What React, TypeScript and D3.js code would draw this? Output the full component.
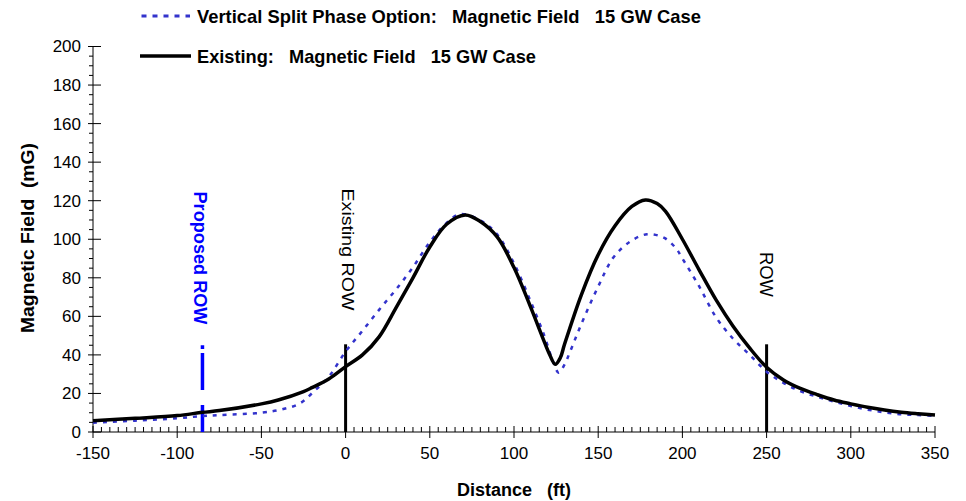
import React from "react";
import * as d3 from "d3";

// ---- Data ----
const existingDist = [-150, -125, -100, -85, -75, -50, -40, -25, -20, -10, 0, 10, 20, 30, 40, 50, 60, 71, 80, 90, 100, 110, 117, 121, 124.5, 127.5, 130, 140, 150, 160, 170, 178, 185, 190, 200, 210, 220, 230, 240, 250, 260, 270, 280, 290, 300, 310, 320, 330, 340, 350];
const existingField = [5.9, 7.1, 8.5, 10.2, 11.1, 14.6, 16.6, 21.0, 23.0, 27.5, 33.9, 40.0, 49.5, 64.5, 80.0, 96.0, 107.8, 112.6, 109.2, 101.2, 85.3, 64.5, 49.0, 40.5, 35.1, 38.5, 45.5, 71.2, 92.0, 107.0, 117.0, 120.4, 118.5, 114.5, 100.0, 84.0, 68.5, 55.0, 43.5, 33.6, 27.0, 22.6, 19.4, 16.6, 14.6, 12.8, 11.4, 10.3, 9.5, 8.8];

const splitDist = [-150, -125, -100, -85, -75, -50, -37, -27, -19, -10, 0, 10, 20, 30, 40, 50, 60, 68, 80, 90, 100, 110, 118, 123, 126.5, 130, 133, 139.5, 150, 159, 169, 179, 189, 196, 200, 210, 220, 230, 240, 250, 260, 270, 280, 290, 300, 310, 320, 330, 340, 350];
const splitField = [4.8, 5.9, 7.1, 8.3, 8.8, 10.0, 11.9, 14.9, 20.9, 28.7, 41.7, 52.5, 63.5, 74.0, 85.5, 98.5, 108.5, 113.0, 109.8, 102.5, 87.5, 67.5, 50.0, 37.0, 30.8, 35.0, 41.0, 55.0, 75.5, 90.5, 98.8, 102.6, 100.8, 95.5, 90.0, 75.5, 59.5, 48.5, 40.0, 31.3, 25.5, 21.2, 18.3, 15.8, 13.5, 11.6, 10.2, 9.2, 8.8, 8.4];

const xTicks = [-150, -100, -50, 0, 50, 100, 150, 200, 250, 300, 350];
const yTicks = [0, 20, 40, 60, 80, 100, 120, 140, 160, 180, 200];

const existingRowPositions = [0, 250];
const proposedRowPosition = -85;
const rowLineTopValue = 45.5;
const proposedRowTopValue = 45;

const legendLabels = [
  "Vertical Split Phase Option:   Magnetic Field   15 GW Case",
  "Existing:   Magnetic Field   15 GW Case",
];
const rowLabels = ["Proposed ROW", "Existing ROW", "ROW"];
const xTitle = "Distance   (ft)";
const yTitle = "Magnetic Field  (mG)";

const FONT = "'Liberation Sans', Arial, Helvetica, sans-serif";
const BLUE_CURVE = "#3333CC";
const BLUE = "#0000FF";

export default function App() {
  const W = 966;
  const H = 501;
  const x = d3.scaleLinear().domain([-150, 350]).range([93, 935]);
  const y = d3.scaleLinear().domain([0, 200]).range([432, 46.5]);

  const line = d3
    .line<[number, number]>()
    .x((d) => x(d[0]))
    .y((d) => y(d[1]))
    .curve(d3.curveCatmullRom.alpha(0.5));

  const existingPts: [number, number][] = existingDist.map((d, i) => [d, existingField[i]]);
  const splitPts: [number, number][] = splitDist.map((d, i) => [d, splitField[i]]);

  const xMinor = d3.range(-150, 351, 5).filter((v) => v % 50 !== 0);
  const yMinor = d3.range(0, 201, 5).filter((v) => v % 20 !== 0);

  const x0 = x(-150);
  const y0 = y(0);

  return (
    <svg
      width={W}
      height={H}
      style={{ position: "absolute", left: 0, top: 0, background: "#fff" }}
      fontFamily={FONT}
    >
      <rect x={0} y={0} width={W} height={H} fill="#fff" />

      {/* Legend */}
      <line x1={141.5} x2={190} y1={16} y2={16} stroke={BLUE_CURVE} strokeWidth={3} strokeDasharray="5,6" />
      <text x={197} y={22.5} fontSize={19} fontWeight="bold" textLength={504} lengthAdjust="spacingAndGlyphs" style={{ whiteSpace: "pre" }}>
        {legendLabels[0]}
      </text>
      <line x1={140} x2={191} y1={56} y2={56} stroke="#000" strokeWidth={3.5} />
      <text x={197} y={62.5} fontSize={19} fontWeight="bold" textLength={339} lengthAdjust="spacingAndGlyphs" style={{ whiteSpace: "pre" }}>
        {legendLabels[1]}
      </text>

      {/* Axes */}
      <line x1={x0} x2={x0} y1={y(200)} y2={y0} stroke="#000" strokeWidth={1} />
      <line x1={x0} x2={x(350)} y1={y0} y2={y0} stroke="#000" strokeWidth={1} />
      {yMinor.map((v) => (
        <line key={"ym" + v} x1={x0 - 4} x2={x0} y1={y(v)} y2={y(v)} stroke="#000" strokeWidth={1} />
      ))}
      {yTicks.map((v) => (
        <g key={"yt" + v}>
          <line x1={x0 - 5} x2={x0 + 8} y1={y(v)} y2={y(v)} stroke="#000" strokeWidth={1} />
          <text x={81} y={y(v)} dy="0.35em" fontSize={17} textAnchor="end">
            {v}
          </text>
        </g>
      ))}
      {xMinor.map((v) => (
        <line key={"xm" + v} x1={x(v)} x2={x(v)} y1={y0 - 5} y2={y0} stroke="#000" strokeWidth={1} />
      ))}
      {xTicks.map((v) => (
        <g key={"xt" + v}>
          <line x1={x(v)} x2={x(v)} y1={y0 - 6} y2={y0 + 6} stroke="#000" strokeWidth={1} />
          <text x={x(v)} y={459} fontSize={17} textAnchor="middle">
            {v}
          </text>
        </g>
      ))}

      {/* Axis titles */}
      <text x={(x(-150) + x(350)) / 2} y={496} fontSize={18} fontWeight="bold" textAnchor="middle" style={{ whiteSpace: "pre" }}>
        {xTitle}
      </text>
      <text
        transform={`translate(34,238) rotate(-90)`}
        fontSize={18}
        fontWeight="bold"
        textAnchor="middle"
        textLength={190}
        lengthAdjust="spacingAndGlyphs"
        style={{ whiteSpace: "pre" }}
      >
        {yTitle}
      </text>

      {/* ROW lines */}
      {existingRowPositions.map((p) => (
        <line key={"row" + p} x1={x(p)} x2={x(p)} y1={y0} y2={y(rowLineTopValue)} stroke="#000" strokeWidth={3} />
      ))}
      <line
        x1={x(proposedRowPosition)}
        x2={x(proposedRowPosition)}
        y1={y0}
        y2={y(proposedRowTopValue)}
        stroke={BLUE}
        strokeWidth={3.5}
        strokeDasharray="27,15,37,4,5,100"
      />

      {/* Curves */}
      <path d={line(splitPts) || ""} fill="none" stroke={BLUE_CURVE} strokeWidth={2.5} strokeDasharray="4,6" />
      <path d={line(existingPts) || ""} fill="none" stroke="#000" strokeWidth={3.5} strokeLinejoin="round" />

      {/* ROW labels */}
      <text
        transform={`translate(194,191.5) rotate(90)`}
        fontSize={18}
        fontWeight="bold"
        fill={BLUE}
        textLength={133}
        lengthAdjust="spacingAndGlyphs"
      >
        {rowLabels[0]}
      </text>
      <text
        transform={`translate(341.5,188.5) rotate(90)`}
        fontSize={17}
        fill="#000"
        textLength={122}
        lengthAdjust="spacingAndGlyphs"
      >
        {rowLabels[1]}
      </text>
      <text
        transform={`translate(760,252) rotate(90)`}
        fontSize={19}
        fill="#000"
        textLength={45}
        lengthAdjust="spacingAndGlyphs"
      >
        {rowLabels[2]}
      </text>
    </svg>
  );
}
